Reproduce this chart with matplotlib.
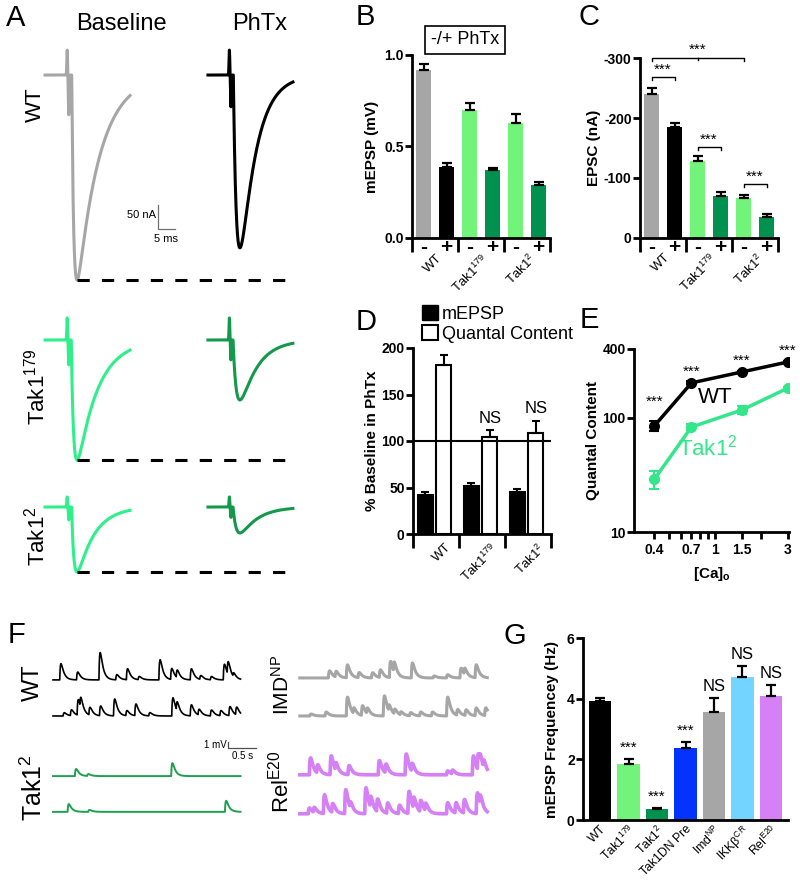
import numpy as np
import matplotlib
matplotlib.use("Agg")
import matplotlib.pyplot as plt
from matplotlib.patches import Patch

plt.rcParams['font.family'] = ['Liberation Sans', 'DejaVu Sans']
plt.rcParams['mathtext.default'] = 'regular'
plt.rcParams['axes.linewidth'] = 2
plt.rcParams['xtick.major.width'] = 2
plt.rcParams['ytick.major.width'] = 2
plt.rcParams['xtick.minor.width'] = 2
plt.rcParams['ytick.minor.width'] = 2

W, H = 800, 884

# Colors
GRAY = '#a6a6a6'
LIGHT = '#72f47a'
DARK = '#00914f'
MINT = '#2ef08a'
TRACE_DARK = '#13994b'
E_GREEN = '#33e68a'
F_GREEN = '#1ea050'
PURPLE = '#d580f5'

# ---------------- Data ----------------

# A: evoked EPSC traces (ms, nA)
a_rows = ['WT', 'Tak1$^{179}$', 'Tak1$^{2}$']
a_base_amp = [427, 250, 135]
a_phtx_amp = [360, 125, 54]
a_base_rise = [0.6, 0.7, 0.7]
a_phtx_rise = [1.0, 1.0, 1.0]
a_base_decay = [6.5, 6.0, 5.0]
a_phtx_decay = [4.5, 5.0, 5.0]
a_art_up = [52, 46, 21]
a_art_down = [83, 52, 27]

# B: mEPSP amplitude (mV), -/+ PhTx
b_groups = ['WT', 'Tak1$^{179}$', 'Tak1$^{2}$']
b_mepsp = [0.92, 0.39, 0.70, 0.37, 0.63, 0.29]
b_err = [0.03, 0.02, 0.04, 0.015, 0.05, 0.015]

# C: EPSC amplitude (nA), -/+ PhTx
c_epsc = [-240, -185, -128, -70, -67, -35]
c_err = [10, 7, 8, 6, 4, 5]

# D: % baseline in PhTx
d_mepsp = [42, 52, 45]
d_mepsp_err = [3, 3, 3]
d_qc = [182, 104, 109]
d_qc_err = [10, 8, 13]
d_sig = ['', 'NS', 'NS']

# E: quantal content vs extracellular Ca
e_ca = [0.4, 0.7, 1.5, 3]
e_wt = [85, 202, 252, 308]
e_wt_err = [9, 6, 7, 6]
e_tak = [29, 83, 117, 182]
e_tak_err = [5, 5, 9, 5]

# F: spontaneous event times (s) and amplitudes (mV)
f_wt1_t = [0.12, 0.42, 0.82, 1.12, 1.31, 1.52, 1.89, 2.10, 2.20, 2.45, 2.62, 2.81, 3.04, 3.11, 3.21]
f_wt1_a = [2.5, 1.2, 4.2, 0.8, 1.7, 0.5, 3.1, 1.7, 1.2, 1.7, 0.6, 0.5, 2.4, 2.0, 0.6]
f_wt2_t = [0.18, 0.31, 0.43, 0.48, 0.64, 0.83, 1.08, 1.30, 1.46, 1.71, 2.12, 2.20, 2.45, 2.59, 2.81, 2.98, 3.14, 3.26]
f_wt2_a = [0.5, 0.9, 2.4, 1.6, 1.2, 1.5, 2.6, 0.8, 1.8, 0.5, 2.8, 1.4, 1.7, 0.9, 0.9, 0.8, 1.4, 1.2]
f_tak1_t = [0.39, 0.61, 2.11]
f_tak1_a = [1.1, 0.3, 2.0]
f_tak2_t = [0.26, 0.63, 3.07]
f_tak2_a = [1.2, 0.3, 1.7]
f_imd1_t = [0.51, 0.63, 0.83, 1.04, 1.28, 1.42, 1.60, 1.67, 1.99, 2.38, 2.62, 2.86, 2.93, 3.13]
f_imd1_a = [1.1, 0.9, 2.0, 0.8, 0.8, 1.2, 2.5, 1.6, 2.3, 0.3, 0.5, 1.5, 1.0, 2.0]
f_imd2_t = [0.18, 0.45, 0.83, 0.95, 1.10, 1.19, 1.49, 1.58, 1.68, 1.79, 1.96, 2.14, 2.35, 2.62, 2.80, 2.95, 3.13, 3.30]
f_imd2_a = [0.3, 0.6, 2.9, 0.9, 1.5, 0.9, 3.1, 1.0, 0.8, 0.5, 0.5, 0.6, 0.6, 2.9, 0.9, 0.9, 1.2, 1.2]
f_rel1_t = [0.17, 0.30, 0.54, 0.63, 0.86, 1.40, 1.52, 1.88, 1.99, 2.62, 2.71, 3.08, 3.17, 3.21, 3.27]
f_rel1_a = [2.6, 1.3, 2.9, 1.2, 1.4, 2.2, 1.4, 3.2, 1.3, 0.6, 0.6, 2.9, 2.6, 1.2, 1.2]
f_rel2_t = [0.15, 0.24, 0.42, 0.57, 0.80, 0.89, 1.16, 1.25, 1.37, 1.55, 1.76, 1.93, 2.02, 2.14, 2.23, 2.62, 2.77, 2.92, 3.15, 3.21]
f_rel2_a = [0.9, 0.8, 2.9, 1.4, 3.7, 1.0, 4.0, 1.8, 2.0, 1.6, 1.3, 3.4, 1.8, 1.8, 1.2, 1.7, 1.6, 2.1, 3.2, 1.5]

# G: mEPSP frequency (Hz)
g_labels = ['WT', 'Tak1$^{179}$', 'Tak1$^{2}$', 'Tak1DN Pre', 'Imd$^{NP}$', 'IKKβ$^{CR}$', 'Rel$^{E20}$']
g_freq = [3.93, 1.85, 0.35, 2.38, 3.55, 4.72, 4.10]
g_err = [0.10, 0.15, 0.05, 0.18, 0.48, 0.35, 0.35]
g_sig = ['', '***', '***', '***', 'NS', 'NS', 'NS']
g_colors = ['black', LIGHT, DARK, '#0433ff', GRAY, '#73d4ff', PURPLE]

PAIR_COLORS = [GRAY, 'black', LIGHT, DARK, LIGHT, DARK]


# ---------------- Helpers ----------------

def box(x0, y0, x1, y1):
    return [x0 / W, 1 - y1 / H, (x1 - x0) / W, (y1 - y0) / H]


def ftext(x, y, s, **kw):
    fig.text(x / W, 1 - y / H, s, **kw)


def epsc(t, t_peak, amp, tr, td):
    tp = tr * td / (td - tr) * np.log(td / tr)
    s = np.clip(t - (t_peak - tp), 0, None)
    k = np.exp(-s / td) - np.exp(-s / tr)
    k /= np.exp(-tp / td) - np.exp(-tp / tr)
    return -amp * k


def artifact(t, t_art, up, down):
    return up * np.exp(-((t - t_art) / 0.15) ** 2) - down * np.exp(-((t - t_art - 0.45) / 0.15) ** 2)


def mini_trace(t, times, amps, tr=0.012, td=0.05):
    tp = tr * td / (td - tr) * np.log(td / tr)
    norm = np.exp(-tp / td) - np.exp(-tp / tr)
    y = np.zeros_like(t)
    for t0, a in zip(times, amps):
        s = np.clip(t - t0, 0, None)
        y += a * (np.exp(-s / td) - np.exp(-s / tr)) / norm
    return y


def style_axes(ax):
    ax.spines['top'].set_visible(False)
    ax.spines['right'].set_visible(False)
    ax.tick_params(axis='y', labelsize=10, length=5, pad=1)
    for lab in ax.get_yticklabels():
        lab.set_fontweight('bold')


def pm_axis(ax, groups):
    # "-" / "+" ticks with group separators and rotated genotype labels
    ax.set_xlim(-0.5, 5.5)
    ax.set_xticks(range(6))
    ax.set_xticklabels(['-', '+'] * 3, fontsize=15, fontweight='bold')
    ax.tick_params(axis='x', which='major', length=0, pad=0)
    ax.set_xticks([-0.5, 1.5, 3.5, 5.5], minor=True)
    ax.tick_params(axis='x', which='minor', length=10, width=2)
    for i, g in enumerate(groups):
        ax.text(2 * i + 0.55, -0.075, g, transform=ax.get_xaxis_transform(), rotation=45,
                ha='right', va='top', rotation_mode='anchor', fontsize=9.5)


def bracket(ax, x0, x1, y, tick):
    ax.plot([x0, x0, x1, x1], [y + tick, y, y, y + tick], color='k', lw=1, clip_on=False)
    ax.text((x0 + x1) / 2, y, '***', ha='center', va='bottom', fontsize=11, clip_on=False)


fig = plt.figure(figsize=(W / 100, H / 100), dpi=100)

# ---------------- Panel A ----------------
PX_MS = 3.4
PX_NA = 0.48
A_ROW_Y = [-73, -625, -973]
A_START = [1.5, 49.4]
A_LEN = 25
base_colors = [GRAY, MINT, MINT]
phtx_colors = ['black', TRACE_DARK, TRACE_DARK]

axA = fig.add_axes(box(40, 40, 300, 590))
axA.set_xlim(0, 260 / PX_MS)
axA.set_ylim(-550 / PX_NA, 0)
axA.axis('off')

t = np.arange(0, A_LEN, 0.02)
for i in range(3):
    yb = A_ROW_Y[i] + epsc(t, 9.4, a_base_amp[i], a_base_rise[i], a_base_decay[i]) \
        + artifact(t, 6.5, a_art_up[i], a_art_down[i])
    yp = A_ROW_Y[i] + epsc(t, 9.4, a_phtx_amp[i], a_phtx_rise[i], a_phtx_decay[i]) \
        + artifact(t, 6.3, a_art_up[i], a_art_down[i] * 0.8)
    axA.plot(A_START[0] + t, yb, color=base_colors[i], lw=2.2)
    axA.plot(A_START[1] + t, yp, color=phtx_colors[i], lw=2.2)
    axA.plot([A_START[0] + 9.4, 72.6], [A_ROW_Y[i] - a_base_amp[i]] * 2,
             color='k', lw=2.2, ls=(0, (4, 4)))

# scale bar 50 nA / 5 ms
axA.plot([34.7, 34.7, 39.7], [-343.75, -393.75, -393.75], color='#707070', lw=0.9)
axA.text(34.2, -365, '50 nA', ha='right', va='center', fontsize=8)
axA.text(37.2, -405, '5 ms', ha='center', va='top', fontsize=8)

ftext(121, 24, 'Baseline', ha='center', va='center', fontsize=17)
ftext(260, 24, 'PhTx', ha='center', va='center', fontsize=17)
ftext(35, 105, a_rows[0], ha='center', va='center', rotation=90, fontsize=16)
ftext(37, 387, a_rows[1], ha='center', va='center', rotation=90, fontsize=16)
ftext(37, 536, a_rows[2], ha='center', va='center', rotation=90, fontsize=16)

# ---------------- Panel B ----------------
axB = fig.add_axes(box(412, 55, 550, 238))
axB.bar(range(6), b_mepsp, width=0.65, color=PAIR_COLORS)
axB.errorbar(range(6), b_mepsp, yerr=[[0] * 6, b_err], fmt='none', ecolor='k',
             elinewidth=1.6, capsize=3.5, capthick=1.6)
axB.set_ylim(0, 1.0)
axB.set_yticks([0, 0.5, 1.0])
axB.set_yticklabels(['0.0', '0.5', '1.0'])
style_axes(axB)
pm_axis(axB, b_groups)
axB.set_ylabel('mEPSP (mV)', fontsize=11, fontweight='bold', labelpad=4)
ftext(465, 40, '-/+ PhTx', ha='center', va='center', fontsize=13,
      bbox=dict(boxstyle='square,pad=0.3', fc='white', ec='k', lw=1.2))

# ---------------- Panel C ----------------
axC = fig.add_axes(box(640, 58, 778, 238))
axC.bar(range(6), c_epsc, width=0.65, color=PAIR_COLORS)
axC.errorbar(range(6), c_epsc, yerr=[c_err, [0] * 6], fmt='none', ecolor='k',
             elinewidth=1.6, capsize=3.5, capthick=1.6)
axC.set_ylim(0, -300)
axC.set_yticks([0, -100, -200, -300])
axC.set_yticklabels(['0', '-100', '-200', '-300'])
style_axes(axC)
pm_axis(axC, b_groups)
axC.set_ylabel('EPSC (nA)', fontsize=11, fontweight='bold', labelpad=2)
bracket(axC, 0, 1, -268, 5)
bracket(axC, 2, 3, -152, 5)
bracket(axC, 4, 5, -90, 5)
axC.plot([0, 0, 4, 4], [-295, -300, -300, -295], color='k', lw=1, clip_on=False)
axC.plot([2, 2], [-300, -296], color='k', lw=1, clip_on=False)
axC.text(2, -302, '***', ha='center', va='bottom', fontsize=11)

# ---------------- Panel D ----------------
axD = fig.add_axes(box(413, 348, 551, 534))
xd = np.arange(3)
axD.bar(xd - 0.23, d_mepsp, width=0.32, color='black', edgecolor='black', lw=1.5)
axD.bar(xd + 0.17, d_qc, width=0.32, color='white', edgecolor='black', lw=1.5)
axD.errorbar(xd - 0.23, d_mepsp, yerr=[[0] * 3, d_mepsp_err], fmt='none', ecolor='k',
             elinewidth=1.5, capsize=3, capthick=1.5)
axD.errorbar(xd + 0.17, d_qc, yerr=[[0] * 3, d_qc_err], fmt='none', ecolor='k',
             elinewidth=1.5, capsize=3, capthick=1.5)
axD.axhline(100, color='k', lw=1.5)
for i in range(3):
    if d_sig[i]:
        axD.annotate(d_sig[i], (xd[i] + 0.17, d_qc[i] + d_qc_err[i]), xytext=(0, 3),
                     textcoords='offset points', ha='center', va='bottom', fontsize=12)
axD.set_xlim(-0.5, 2.5)
axD.set_ylim(0, 200)
axD.set_yticks([0, 50, 100, 150, 200])
style_axes(axD)
axD.set_xticks([])
axD.set_xticks([-0.5, 0.5, 1.5, 2.5], minor=True)
axD.tick_params(axis='x', which='minor', length=10, width=2)
for i, g in enumerate(b_groups):
    axD.text(xd[i] + 0.2, -0.04, g, transform=axD.get_xaxis_transform(), rotation=45,
             ha='right', va='top', rotation_mode='anchor', fontsize=9.5)
axD.set_ylabel('% Baseline in PhTx', fontsize=11, fontweight='bold', labelpad=2)
axD.legend([Patch(fc='black', ec='black'), Patch(fc='white', ec='black', lw=1.5)],
           ['mEPSP', 'Quantal Content'], loc='upper left',
           bbox_to_anchor=(422 / W, 1 - 305 / H), bbox_transform=fig.transFigure,
           frameon=False, fontsize=13, handlelength=0.9, handleheight=0.9,
           handletextpad=0.2, labelspacing=0.15, borderpad=0, borderaxespad=0)

# ---------------- Panel E ----------------
axE = fig.add_axes(box(634, 349, 789, 532))
axE.errorbar(e_ca, e_wt, yerr=[e_wt_err, e_wt_err], color='black', lw=2.5, marker='o',
             ms=7, capsize=3.5, capthick=1.5, elinewidth=1.5)
axE.errorbar(e_ca, e_tak, yerr=[e_tak_err, e_tak_err], color=E_GREEN, lw=2.5, marker='o',
             ms=7, capsize=3.5, capthick=1.5, elinewidth=1.5)
axE.set_xscale('log')
axE.set_yscale('log')
axE.set_xlim(0.294, 3.05)
axE.set_ylim(10, 400)
axE.set_yticks([10, 100, 400])
axE.set_yticklabels(['10', '100', '400'])
axE.yaxis.set_minor_locator(plt.NullLocator())
axE.set_xticks(e_ca[:2] + [1] + e_ca[2:])
axE.set_xticklabels(['0.4', '0.7', '1', '1.5', '3'])
axE.set_xticks([0.5, 0.6, 0.8, 0.9, 2], minor=True)
axE.xaxis.set_minor_formatter(plt.NullFormatter())
style_axes(axE)
axE.tick_params(axis='x', which='both', length=5, labelsize=10, pad=3)
for lab in axE.get_xticklabels():
    lab.set_fontweight('bold')
star_off = [9, 2, 2, 2]
for x, y, err, off in zip(e_ca, e_wt, e_wt_err, star_off):
    axE.annotate('***', (x, y + err), xytext=(0, off), textcoords='offset points',
                 ha='center', va='bottom', fontsize=11, annotation_clip=False)
axE.set_ylabel('Quantal Content', fontsize=11, fontweight='bold', labelpad=2)
axE.set_xlabel('[Ca]$_o$', fontsize=11, fontweight='bold', labelpad=6)
ftext(715, 398, 'WT', ha='center', va='center', fontsize=16)
ftext(708, 448, 'Tak1$^{2}$', ha='center', va='center', fontsize=16, color=E_GREEN)

# ---------------- Panel F ----------------
PX_S = 56
PX_MV = 6.5
F_LEN = 3.35
axF = fig.add_axes(box(45, 650, 495, 830))
axF.set_xlim(0, 450 / PX_S)
axF.set_ylim(-180 / PX_MV, 0)
axF.axis('off')
tf = np.arange(0, F_LEN, 0.002)
f_traces = [
    (0.143, -4.6, f_wt1_t, f_wt1_a, 'black', 1.2),
    (0.143, -10.15, f_wt2_t, f_wt2_a, 'black', 1.2),
    (0.143, -19.4, f_tak1_t, f_tak1_a, F_GREEN, 1.4),
    (0.143, -24.9, f_tak2_t, f_tak2_a, F_GREEN, 1.4),
    (4.55, -4.3, f_imd1_t, f_imd1_a, GRAY, 2.2),
    (4.55, -10.15, f_imd2_t, f_imd2_a, GRAY, 2.2),
    (4.55, -19.2, f_rel1_t, f_rel1_a, PURPLE, 2.6),
    (4.55, -25.2, f_rel2_t, f_rel2_a, PURPLE, 2.6),
]
for x0, y0, times, amps, col, lw in f_traces:
    axF.plot(x0 + tf, y0 + mini_trace(tf, times, amps), color=col, lw=lw)

# scale bar 1 mV / 0.5 s
axF.plot([3.27, 3.27, 3.77], [-14.15, -15.15, -15.15], color='#505050', lw=0.9)
axF.text(3.24, -14.6, '1 mV', ha='right', va='center', fontsize=7)
axF.text(3.52, -15.6, '0.5 s', ha='center', va='top', fontsize=7)

ftext(33, 683, 'WT', ha='center', va='center', rotation=90, fontsize=17)
ftext(34, 788, 'Tak1$^{2}$', ha='center', va='center', rotation=90, fontsize=18)
ftext(282, 685, 'IMD$^{NP}$', ha='center', va='center', rotation=90, fontsize=15)
ftext(281, 782, 'Rel$^{E20}$', ha='center', va='center', rotation=90, fontsize=16)

# ---------------- Panel G ----------------
axG = fig.add_axes(box(583, 638, 788, 820))
xg = np.arange(7)
axG.bar(xg, g_freq, width=0.78, color=g_colors)
axG.errorbar(xg, g_freq, yerr=[[0] * 7, g_err], fmt='none', ecolor='k',
             elinewidth=1.6, capsize=3.5, capthick=1.6)
for i in range(7):
    if g_sig[i]:
        axG.annotate(g_sig[i], (xg[i], g_freq[i] + g_err[i]), xytext=(0, 3),
                     textcoords='offset points', ha='center', va='bottom',
                     fontsize=12 if g_sig[i] == 'NS' else 11)
axG.set_xlim(-0.6, 6.6)
axG.set_ylim(0, 6)
axG.set_yticks([0, 2, 4, 6])
style_axes(axG)
axG.set_xticks(xg)
axG.set_xticklabels(g_labels, rotation=45, ha='right', rotation_mode='anchor', fontsize=8.8)
axG.tick_params(axis='x', length=0, pad=2)
axG.set_ylabel('mEPSP Frequencey (Hz)', fontsize=11, fontweight='bold', labelpad=6)

# ---------------- Panel letters ----------------
for s, x, y in [('A', 16, 18), ('B', 365, 17), ('C', 589, 17), ('D', 366, 322),
                ('E', 589, 320), ('F', 16, 635), ('G', 515, 636)]:
    ftext(x, y, s, ha='center', va='center', fontsize=21)

fig.savefig('out.png', dpi=100)
